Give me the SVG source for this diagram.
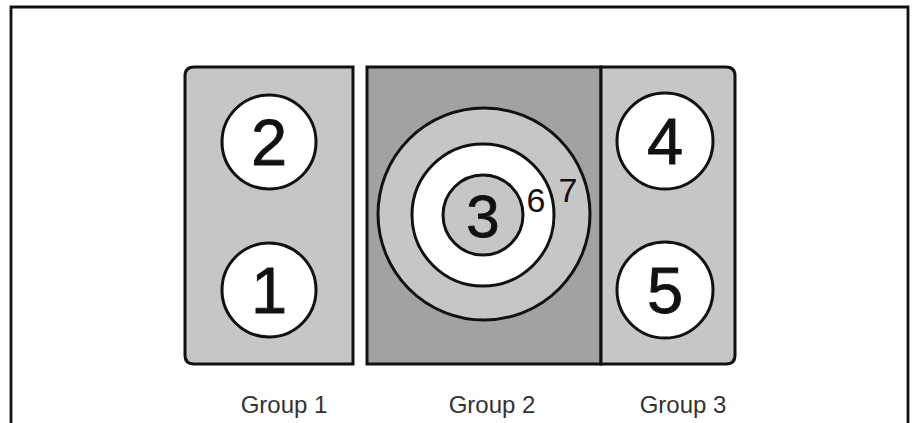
<svg xmlns="http://www.w3.org/2000/svg" width="914" height="423" viewBox="0 0 914 423">
<style>
.ln{stroke:#111;stroke-width:3;}
.light{fill:#c6c6c6;}
.dark{fill:#a2a2a2;}
.wc{fill:#fff;stroke:#111;stroke-width:3;}
.num{font-family:"Liberation Sans",Arial,sans-serif;fill:#111;stroke:#111;stroke-width:0.8;text-anchor:middle;}
.sm{font-family:"Liberation Sans",Arial,sans-serif;fill:#111;font-size:34px;text-anchor:middle;}
.lbl{font-family:"Liberation Sans",Arial,sans-serif;fill:#333;font-size:24px;text-anchor:middle;}
</style>
<rect width="914" height="423" fill="#fff"/>
<path d="M11 423 V7 H908 V423" fill="none" stroke="#111" stroke-width="2.8"/>
<g id="group1">
<path class="light ln" d="M353 67 H194 Q185 67 185 76 V355 Q185 364 194 364 H353 Z"/>
<text class="lbl" x="284" y="413">Group 1</text>
</g>
<g id="group2">
<rect class="dark ln" x="367" y="67" width="234" height="297"/>
<text class="lbl" x="492" y="413">Group 2</text>
</g>
<g id="group3">
<path class="light ln" d="M601 67 H726 Q735 67 735 76 V355 Q735 364 726 364 H601 Z"/>
<text class="lbl" x="683" y="413">Group 3</text>
</g>
<g id="node2">
<circle class="wc" cx="269" cy="142" r="47"/>
<text class="num" x="269" y="165" font-size="65">2</text>
</g>
<g id="node1">
<circle class="wc" cx="269" cy="290" r="47"/>
<text class="num" x="269" y="313" font-size="65">1</text>
</g>
<g id="node4">
<circle class="wc" cx="665" cy="141" r="48"/>
<text class="num" x="665" y="164" font-size="65">4</text>
</g>
<g id="node5">
<circle class="wc" cx="665" cy="290" r="48"/>
<text class="num" x="665" y="313" font-size="65">5</text>
</g>
<g id="node7">
<circle class="light ln" cx="484" cy="214" r="106"/>
<text class="sm" x="568" y="202">7</text>
</g>
<g id="node6">
<circle class="wc" cx="483" cy="215" r="71"/>
<text class="sm" x="536" y="212">6</text>
</g>
<g id="node3">
<circle class="light ln" cx="483" cy="215" r="40"/>
<text class="num" x="483" y="237" font-size="60" stroke-width="1.4">3</text>
</g>
<g id="connectors"></g>
</svg>
